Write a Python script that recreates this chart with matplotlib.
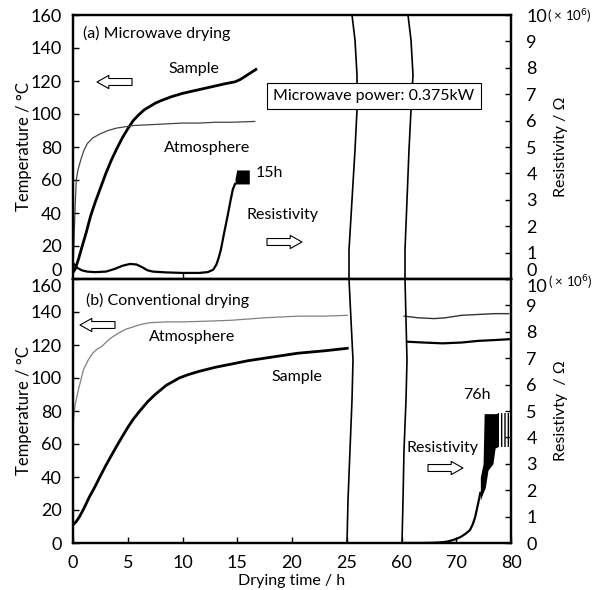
import numpy as np
import matplotlib.pyplot as plt
from matplotlib.lines import Line2D
from matplotlib.patches import FancyArrowPatch

plt.rcParams['font.family'] = ['Lato', 'DejaVu Sans']
plt.rcParams['font.size'] = 11.5

# ---- (a) microwave drying ----
sample_a_t = [0, 0.2, 0.5, 0.8, 1.2, 1.6, 2.0, 2.5, 3.0, 3.5, 4.0, 4.5, 5.0, 5.5, 6.0, 6.5, 7.0,
              7.5, 8, 9, 10, 11, 12, 13, 14, 14.8, 15.3, 16, 16.7]
sample_a_T = [4, 6, 12, 19, 28, 38, 46, 55, 64, 72, 79, 85.5, 91, 96, 99.5, 102.5, 104.5,
              106.5, 108, 110.5, 112.5, 114, 115.5, 117, 118.5, 119.5, 121, 124, 127]
atm_a_t = [0, 0.1, 0.2, 0.3, 0.45, 0.7, 1.0, 1.3, 1.8, 2.5, 3.2, 4, 5.5, 7, 8.5, 10, 11.5, 13, 14.5, 16.6]
atm_a_T = [5, 25, 45, 60, 66, 72, 78, 82, 85.5, 88, 90, 91.5, 93, 93.5, 94, 94.5, 94.5, 95, 95, 95.5]
res_a_t = [0, 0.4, 0.8, 1.3, 2, 3, 3.8, 4.5, 5.2, 5.8, 6.3, 6.8, 7.3, 8.5, 10, 11.5, 12.3, 12.8,
           13.1, 13.3, 13.5, 13.8, 14.1, 14.4, 14.6, 14.8]
res_a_R = [0.6, 0.42, 0.33, 0.28, 0.26, 0.28, 0.38, 0.5, 0.57, 0.55, 0.45, 0.33, 0.28, 0.25, 0.23,
           0.23, 0.26, 0.35, 0.55, 0.8, 1.1, 1.74, 2.35, 3.0, 3.4, 3.6]
band_a_t = [14.8, 14.95, 16.1]
band_a_lo = [3.6, 3.6, 3.6]
band_a_hi = [3.8, 4.13, 4.13]

# ---- (b) conventional drying ----
sample_b_t = [0, 0.3, 0.6, 1.0, 1.5, 2.0, 2.45, 3.0, 3.5, 4.1, 4.5, 5, 5.5, 6.1, 6.8, 7.5, 8.5, 9.7,
              10.5, 11.5, 13, 14.5, 16, 17.5, 19, 20.5, 23, 25.3]
sample_b_T = [11, 13, 16, 21, 28, 34, 40, 47, 53, 60, 64.5, 70, 75, 80, 85.5, 90, 95.5, 100,
              102, 104, 106.5, 108.5, 110.5, 112, 113.5, 115, 116.5, 118]
sample_b2_t = [61, 64, 67.5, 71, 74, 77, 79.6]
sample_b2_T = [122, 121.5, 121, 121.5, 122.5, 123, 123.5]
atm_b_t = [0, 0.1, 0.2, 0.3, 0.4, 0.5, 0.65, 0.8, 0.95, 1.4, 1.8, 2.2, 2.6, 3.0, 3.4, 4.1, 4.8,
           5.5, 6.2, 7, 8.5, 10, 12.5, 14.5, 17.5, 20.6, 23, 25.3]
atm_b_T = [70, 79, 84, 87, 90, 93, 97, 101, 105, 111, 115, 117.5, 119, 121.5, 124, 127, 129.5,
           131, 132.5, 133.5, 134, 134, 134.5, 135, 136.5, 137.5, 137.5, 138]
atm_b2_t = [60.5, 63, 66, 68, 71, 74, 77, 79.6]
atm_b2_T = [137.5, 136.5, 136, 136.5, 138, 138.5, 139, 139]
res_b_t = [60.5, 64, 66, 67.5, 68.5, 69.5, 70.3, 70.9, 71.7, 72.5, 73, 73.45, 74, 74.4]
res_b_R = [0, 0, 0.01, 0.03, 0.06, 0.12, 0.18, 0.24, 0.35, 0.49, 0.7, 0.98, 1.5, 1.9]
band_b_t = [74.4, 74.9, 75.1, 75.3, 75.8, 76.7, 77.1, 77.6]
band_b_lo = [1.63, 1.9, 2.0, 2.1, 2.76, 3.0, 3.6, 3.64]
band_b_hi = [2.5, 3.0, 4.9, 4.9, 4.9, 4.9, 4.9, 4.92]
hatch_b_t = [77.6, 79.8]
hatch_b_lo = [3.64, 3.64]
hatch_b_hi = [4.92, 4.92]

xticks = [0, 5, 10, 15, 20, 25, 60, 70, 80]


def fwd(t):
    t = np.asarray(t, float)
    return np.where(t <= 25, t, np.where(t >= 60, 30 + (t - 60) / 2, 25 + (t - 25) / 7))


def inv(u):
    u = np.asarray(u, float)
    return np.where(u <= 25, u, np.where(u >= 30, 60 + (u - 30) * 2, 25 + (u - 25) * 7))


W, H = 596, 590


def P(x, y):
    return x / W, 1 - y / H


fig = plt.figure(figsize=(5.96, 5.90), dpi=100)
L, R = 73, 511
axA = fig.add_axes([L / W, 1 - 279 / H, (R - L) / W, 264 / H])
axB = fig.add_axes([L / W, 1 - 543 / H, (R - L) / W, 264 / H])

for ax in (axA, axB):
    ax.set_xscale('function', functions=(fwd, inv))
    ax.set_xlim(0, 80)
    ax.set_ylim(0, 160)
    ax.set_yticks(range(0, 161, 20), labels=[str(v) for v in range(0, 161, 20)])
    ax.tick_params(direction='in', length=4, width=1, labelsize=13)
    ax.tick_params(axis='y', pad=8)
    ax.tick_params(axis='x', pad=9)
    for s in ax.spines.values():
        s.set_linewidth(1.6)
    ax.set_ylabel('Temperature / °C', fontsize=12)
    ax.yaxis.set_label_coords(-0.094, 0.5)

axA.set_xticks([10], labels=[''])
axB.set_xticks(xticks, labels=[str(v) for v in xticks])
axB.set_xlabel('Drying time / h')
axB.xaxis.set_label_coords(0.5, -0.116)

rA = axA.twinx()
rB = axB.twinx()
for r, lab in ((rA, 'Resistivity / Ω'), (rB, 'Resistivty  / Ω')):
    r.set_ylim(0, 10)
    r.set_yticks(range(0, 11), labels=[str(v) for v in range(0, 11)])
    r.tick_params(direction='in', length=4, width=1, labelsize=13, pad=11)
    r.set_ylabel(lab)
    r.yaxis.set_label_coords(1.098, 0.5)
    for s in r.spines.values():
        s.set_linewidth(1.6)

axA.get_yticklabels()[0].set_va('bottom')
axB.get_yticklabels()[-1].set_va('top')
rA.get_yticklabels()[0].set_va('bottom')
rB.get_yticklabels()[-1].set_va('top')

# curves
axA.plot(sample_a_t, sample_a_T, color='black', lw=2)
axA.plot(atm_a_t, atm_a_T, color='#444444', lw=0.9)
rA.plot(res_a_t, res_a_R, color='black', lw=1.6)
rA.fill_between(band_a_t, band_a_lo, band_a_hi, color='black', lw=0)

axB.plot(sample_b_t, sample_b_T, color='black', lw=2)
axB.plot(sample_b2_t, sample_b2_T, color='black', lw=1.6)
axB.plot(atm_b_t, atm_b_T, color='#808080', lw=0.9)
axB.plot(atm_b2_t, atm_b2_T, color='#333333', lw=1.0)
rB.plot(res_b_t, res_b_R, color='black', lw=1.6)
rB.fill_between(band_b_t, band_b_lo, band_b_hi, color='black', lw=0)
rB.fill_between(hatch_b_t, hatch_b_lo, hatch_b_hi, facecolor='white', edgecolor='black',
                hatch='|||||', lw=0)

# axis break lines
left_x = [352, 355, 357, 357, 355, 352, 349, 349, 351, 353, 352, 350, 348, 347]
right_x = [408, 411, 413, 411, 409, 407, 405, 405, 406, 407, 406, 404, 403, 402]
brk_y = [15, 40, 75, 110, 150, 200, 250, 279, 320, 360, 400, 450, 500, 543]
for xs in (left_x, right_x):
    fig.add_artist(Line2D(np.array(xs) / W, 1 - np.array(brk_y) / H,
                          transform=fig.transFigure, color='black', lw=1.2, zorder=3))

# annotations
fig.text(*P(83, 33), '(a) Microwave drying', ha='left', va='center')
fig.text(*P(194, 69), 'Sample', ha='center', va='center')
fig.text(*P(207, 148), 'Atmosphere', ha='center', va='center')
fig.text(*P(256, 173), '15h', ha='left', va='center')
fig.text(*P(282, 215), 'Resistivity', ha='center', va='center')
fig.text(*P(374, 96), 'Microwave power: 0.375kW', ha='center', va='center', zorder=5,
         bbox=dict(boxstyle='square,pad=0.4', fc='white', ec='black', lw=0.8))

fig.text(*P(86, 300), '(b) Conventional drying', ha='left', va='center')
fig.text(*P(192, 337), 'Atmosphere', ha='center', va='center')
fig.text(*P(297, 377), 'Sample', ha='center', va='center')
fig.text(*P(477, 395), '76h', ha='center', va='center')
fig.text(*P(443, 448), 'Resistivity', ha='center', va='center')

fig.text(*P(547, 17), '( × 10$^{6}$)', ha='left', va='center', fontsize=9.5)
fig.text(*P(548, 283), '( × 10$^{6}$)', ha='left', va='center', fontsize=9.5)

for x0, x1, y in ((132, 97, 82), (267, 302, 242), (115, 80, 325), (428, 463, 468)):
    fig.add_artist(FancyArrowPatch(P(x0, y), P(x1, y), transform=fig.transFigure,
                                   arrowstyle='simple,head_length=0.85,head_width=0.95,tail_width=0.5',
                                   mutation_scale=10, fc='white', ec='black', lw=0.8,
                                   shrinkA=0, shrinkB=0, zorder=4))

fig.savefig('out.png', dpi=100)
